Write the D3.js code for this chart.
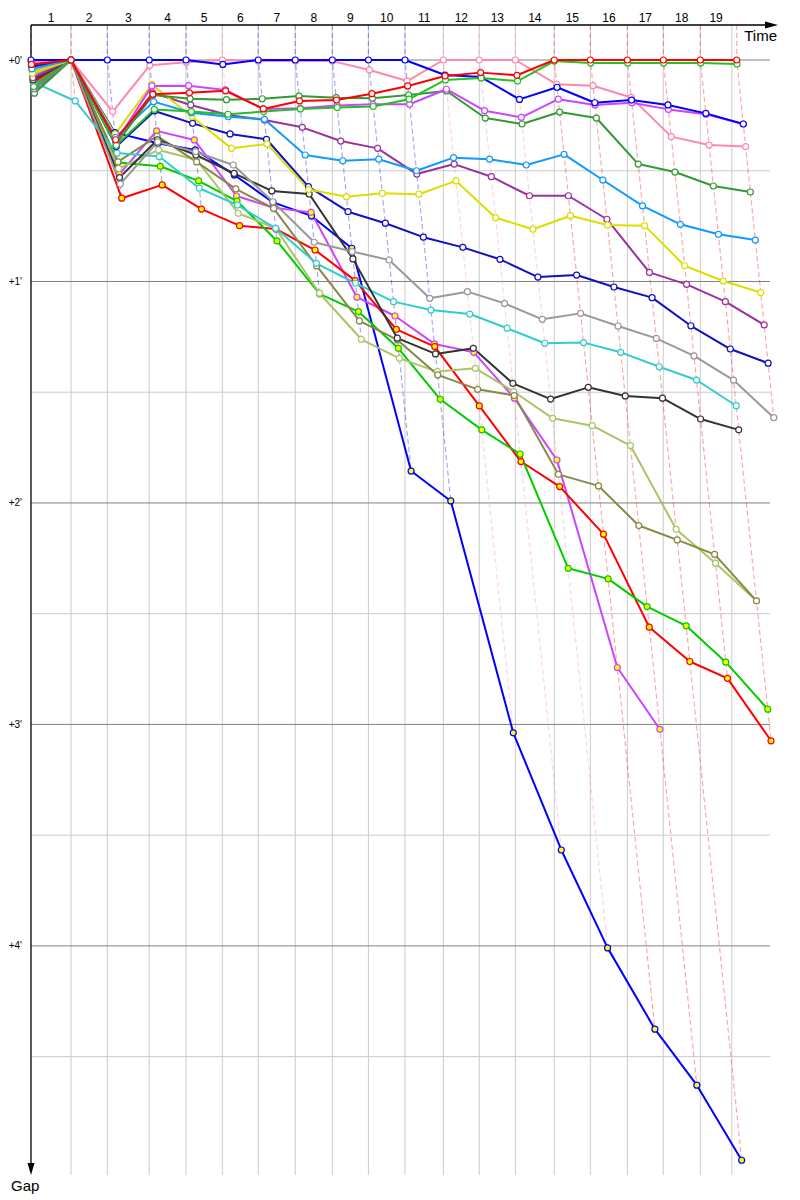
<!DOCTYPE html>
<html>
<head>
<meta charset="utf-8">
<script src="https://cdn.jsdelivr.net/npm/d3@7"></script>
<style>
  body { margin: 0; background: #fff; }
  svg { display: block; font-family: "Liberation Sans", Arial, sans-serif; }
</style>
</head>
<body>
<div id="chart"></div>
<script>
// leader's cumulative time (minutes) when completing each lap 1..20
const leaderTimes = [0, 1.74, 3.32, 5.14, 6.74, 8.32, 9.88, 11.49, 13.10, 14.67,
                     16.26, 17.93, 19.49, 21.06, 22.75, 24.32, 25.93, 27.49, 29.10, 30.68];
// vertical grid lines (time, minutes) and the lap labels between them
const gridTimes = [1.74, 3.32, 5.14, 6.74, 8.32, 9.88, 11.49, 13.10, 14.67, 16.26,
                   17.93, 19.49, 21.06, 22.75, 24.32, 25.93, 27.49, 29.10, 30.47];
const lapLabels = ["1","2","3","4","5","6","7","8","9","10","11","12","13","14","15","16","17","18","19"];

const gapTicks = [0, 1, 2, 3, 4];
const gapTickLabels = ["+0'", "+1'", "+2'", "+3'", "+4'"];
const gapMinorTicks = [0.5, 1.5, 2.5, 3.5, 4.5];

// gap to leader (minutes) at each lap
const red1 = [0.02, 0, 0.36, 0.155, 0.148, 0.139, 0.221, 0.185, 0.181, 0.152, 0.117, 0.072, 0.057, 0.069, 0, 0, 0, 0, 0, 0];
const green1 = [0.12, 0, 0.385, 0.223, 0.233, 0.245, 0.233, 0.221, 0.215, 0.21, 0.177, 0.09, 0.081, 0.095, 0.005, 0.014, 0.014, 0.014, 0.014, 0.018];
const blue1 = [0, 0, 0, 0, 0, 0.02, 0, 0, 0, 0, 0, 0.068, 0.077, 0.178, 0.123, 0.193, 0.181, 0.203, 0.241, 0.289];
const magenta1 = [0.13, 0, 0.37, 0.117, 0.116, 0.135, 0.221, 0.218, 0.205, 0.2, 0.2, 0.132, 0.229, 0.259, 0.177, 0.203, 0.193, 0.223, 0.245, 0.289];
const pink = [0.01, 0, 0.233, 0.024, 0.01, 0, 0.005, 0.005, 0.005, 0.045, 0.095, 0, 0, 0, 0.11, 0.116, 0.169, 0.346, 0.384, 0.391];
const darkGreen = [0.15, 0, 0.38, 0.158, 0.175, 0.179, 0.175, 0.163, 0.17, 0.173, 0.158, 0.14, 0.262, 0.289, 0.235, 0.262, 0.47, 0.506, 0.569, 0.596];
const skyBlue = [0.04, 0, 0.35, 0.188, 0.238, 0.256, 0.268, 0.429, 0.455, 0.448, 0.5, 0.441, 0.448, 0.474, 0.426, 0.542, 0.659, 0.742, 0.787, 0.813];
const yellow = [0.06, 0, 0.335, 0.110, 0.256, 0.399, 0.379, 0.585, 0.617, 0.602, 0.606, 0.546, 0.712, 0.764, 0.703, 0.745, 0.748, 0.929, 0.998, 1.05];
const purple = [0.08, 0, 0.365, 0.148, 0.203, 0.248, 0.271, 0.304, 0.366, 0.399, 0.515, 0.47, 0.527, 0.613, 0.613, 0.719, 0.959, 1.013, 1.091, 1.196];
const navy = [0.03, 0, 0.391, 0.23, 0.286, 0.334, 0.358, 0.572, 0.685, 0.737, 0.8, 0.846, 0.9, 0.98, 0.971, 1.025, 1.073, 1.2, 1.305, 1.369];
const gray = [0.07, 0, 0.56, 0.37, 0.414, 0.474, 0.64, 0.823, 0.865, 0.903, 1.076, 1.046, 1.099, 1.171, 1.144, 1.201, 1.257, 1.336, 1.445, 1.615];
const black = [0.09, 0, 0.531, 0.36, 0.429, 0.512, 0.591, 0.605, 0.898, 1.256, 1.327, 1.302, 1.46, 1.531, 1.478, 1.517, 1.527, 1.621, 1.67];
const cyan = [0.1, 0.185, 0.42, 0.436, 0.579, 0.655, 0.76, 0.918, 1.008, 1.091, 1.129, 1.147, 1.211, 1.279, 1.276, 1.32, 1.385, 1.445, 1.561];
const olive = [0.11, 0, 0.46, 0.344, 0.46, 0.582, 0.67, 0.93, 1.178, 1.264, 1.422, 1.487, 1.515, 1.871, 1.923, 2.102, 2.167, 2.232, 2.442];
const lightOlive = [0.05, 0, 0.49, 0.406, 0.45, 0.692, 0.76, 1.053, 1.261, 1.347, 1.407, 1.392, 1.497, 1.618, 1.651, 1.741, 2.119, 2.272, 2.442];
const green2 = [0.14, 0, 0.463, 0.48, 0.546, 0.637, 0.817, 1.056, 1.136, 1.302, 1.532, 1.67, 1.779, 2.295, 2.343, 2.468, 2.555, 2.719, 2.931];
const red2 = [0.1, 0, 0.624, 0.564, 0.673, 0.748, 0.763, 0.858, 0.996, 1.216, 1.294, 1.562, 1.813, 1.926, 2.141, 2.561, 2.716, 2.792, 3.074];
const magenta2 = [0.12, 0, 0.516, 0.32, 0.361, 0.614, 0.667, 0.688, 1.071, 1.156, 1.282, 1.32, 1.527, 1.806, 2.743, 3.022];
const blue2 = [0.02, 0, 0.328, 0.376, 0.406, 0.519, 0.643, 0.704, 0.85, 1.856, 1.991, 3.038, 3.567, 4.009, 4.376, 4.629, 4.968];

const riders = [
  { gaps: red1, color: "#ff0000", fill: "#fff" },
  { gaps: green1, color: "#22c022", fill: "#fff" },
  { gaps: blue1, color: "#0000ff", fill: "#fff" },
  { gaps: magenta1, color: "#cc44ff", fill: "#fff" },
  { gaps: pink, color: "#ff88aa", fill: "#fff" },
  { gaps: darkGreen, color: "#339933", fill: "#fff" },
  { gaps: skyBlue, color: "#1199ff", fill: "#fff" },
  { gaps: yellow, color: "#dddd00", fill: "#fff" },
  { gaps: purple, color: "#993399", fill: "#fff" },
  { gaps: navy, color: "#1010c0", fill: "#fff" },
  { gaps: gray, color: "#999999", fill: "#fff" },
  { gaps: black, color: "#333333", fill: "#fff" },
  { gaps: cyan, color: "#33cccc", fill: "#fff" },
  { gaps: olive, color: "#888844", fill: "#fff" },
  { gaps: lightOlive, color: "#aac466", fill: "#fff" },
  { gaps: green2, color: "#00cc00", fill: "#ffff00" },
  { gaps: red2, color: "#ff0000", fill: "#ffff00" },
  { gaps: magenta2, color: "#cc44ff", fill: "#ffff00" },
  { gaps: blue2, color: "#0000ff", fill: "#ffff00" }
];

const width = 800, height = 1200;
const axisTop = 25, axisBottom = 1175;

const svg = d3.select("#chart").append("svg")
    .attr("width", width)
    .attr("height", height);

const x = d3.scaleLinear().domain([0, 32.13]).range([31, 770]);
const y = d3.scaleLinear().domain([0, 5.03]).range([60, 1174]);

// grid
svg.append("g").selectAll("line")
    .data(gridTimes)
    .enter().append("line")
    .attr("x1", d => x(d)).attr("x2", d => x(d))
    .attr("y1", axisTop).attr("y2", axisBottom)
    .attr("stroke", "#cccccc");

svg.append("g").selectAll("line")
    .data(gapMinorTicks)
    .enter().append("line")
    .attr("x1", x(0)).attr("x2", x.range()[1])
    .attr("y1", d => y(d)).attr("y2", d => y(d))
    .attr("stroke", "#cccccc");

svg.append("g").selectAll("line")
    .data(gapTicks)
    .enter().append("line")
    .attr("x1", x(0)).attr("x2", x.range()[1])
    .attr("y1", d => y(d)).attr("y2", d => y(d))
    .attr("stroke", "#808080");

// dashed lap lines, coloured by the lap leader
const line = d3.line();
leaderTimes.forEach(function(t, i) {
    const pts = riders.filter(r => r.gaps[i] !== undefined)
        .map(r => ({ r: r, g: r.gaps[i] }));
    pts.sort((a, b) => a.g - b.g);
    const coords = [[x(t), axisTop]].concat(pts.map(p => [x(t + p.g), y(p.g)]));
    svg.append("path")
        .attr("d", line(coords))
        .attr("fill", "none")
        .attr("stroke", pts[0].r.color)
        .attr("stroke-opacity", 0.35)
        .attr("stroke-width", 1.2)
        .attr("stroke-dasharray", "5,3");
});

// axes
svg.append("line")
    .attr("x1", x(0)).attr("x2", 772)
    .attr("y1", axisTop).attr("y2", axisTop)
    .attr("stroke", "#000").attr("stroke-width", 1.3);
svg.append("path")
    .attr("d", "M765,21.5L778,25L765,28.5Z")
    .attr("fill", "#000");
svg.append("line")
    .attr("x1", x(0)).attr("x2", x(0))
    .attr("y1", axisTop).attr("y2", axisBottom - 4)
    .attr("stroke", "#000").attr("stroke-width", 1.3);
svg.append("path")
    .attr("d", `M${x(0) - 3.5},${axisBottom - 12}L${x(0)},${axisBottom}L${x(0) + 3.5},${axisBottom - 12}Z`)
    .attr("fill", "#000");

const bounds = [0].concat(gridTimes);
svg.append("g").selectAll("text")
    .data(lapLabels)
    .enter().append("text")
    .attr("x", (d, i) => (x(bounds[i]) + x(bounds[i + 1])) / 2)
    .attr("y", 21.5)
    .attr("text-anchor", "middle")
    .attr("font-size", 12)
    .text(d => d);

svg.append("g").selectAll("text")
    .data(gapTicks)
    .enter().append("text")
    .attr("x", 22)
    .attr("y", d => y(d) + 3.5)
    .attr("text-anchor", "end")
    .attr("font-size", 10)
    .text((d, i) => gapTickLabels[i]);

svg.append("text")
    .attr("x", 777).attr("y", 41)
    .attr("text-anchor", "end")
    .attr("font-size", 15)
    .text("Time");
svg.append("text")
    .attr("x", 11).attr("y", 1191)
    .attr("font-size", 15)
    .text("Gap");

// rider lines
const riderLine = d3.line()
    .x((g, i) => x(leaderTimes[i] + g))
    .y(g => y(g));

riders.slice().reverse().forEach(function(r) {
    svg.append("path")
        .attr("d", riderLine(r.gaps))
        .attr("fill", "none")
        .attr("stroke", r.color)
        .attr("stroke-width", 2)
        .attr("stroke-linejoin", "round");
});

riders.slice().reverse().forEach(function(r) {
    svg.append("g").selectAll("circle")
        .data(r.gaps)
        .enter().append("circle")
        .attr("cx", (g, i) => x(leaderTimes[i] + g))
        .attr("cy", g => y(g))
        .attr("r", 3)
        .attr("fill", r.fill)
        .attr("stroke", r.color)
        .attr("stroke-width", 1.2);
});
</script>
</body>
</html>
